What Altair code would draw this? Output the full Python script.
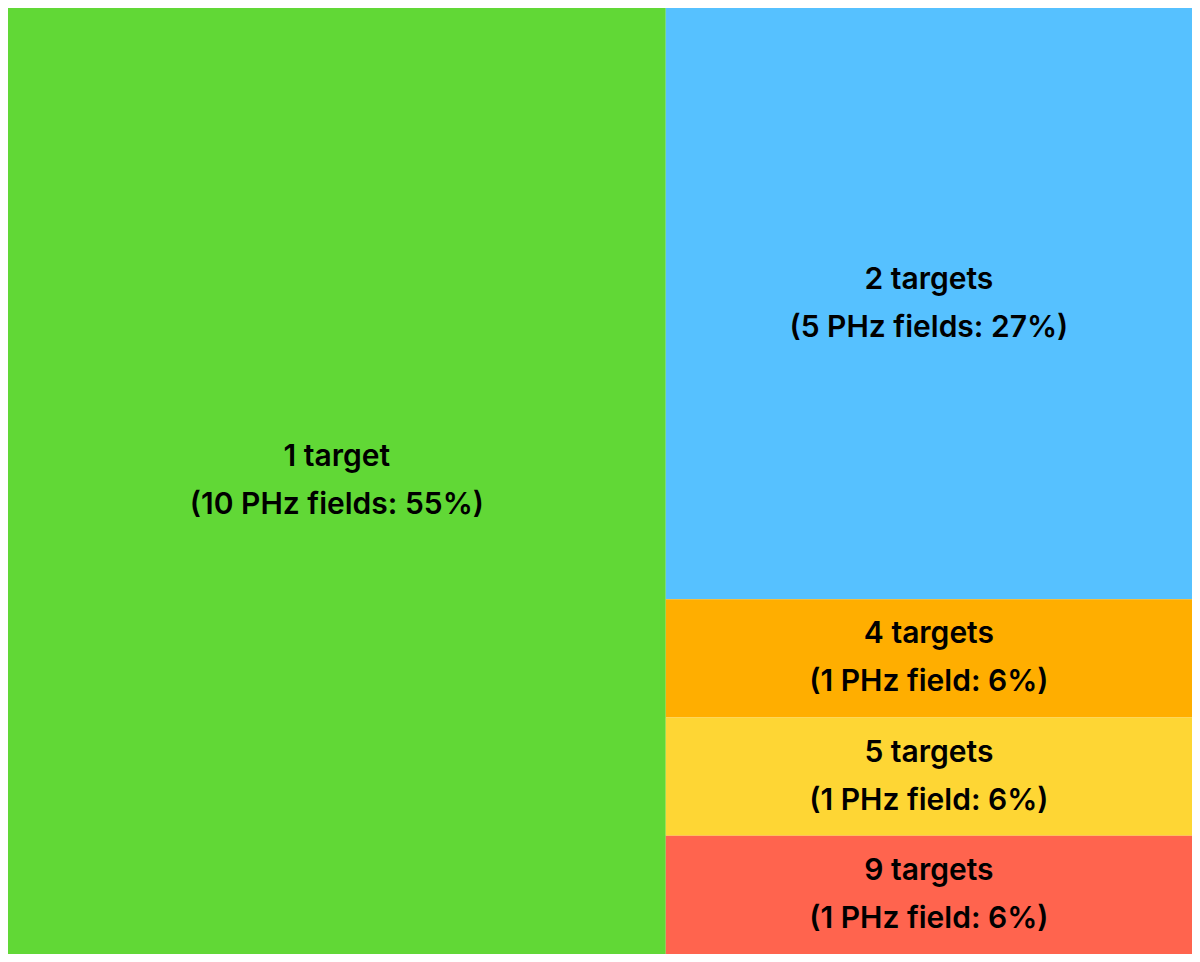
import altair as alt
import pandas as pd

labels = ["1 target", "2 targets", "4 targets", "5 targets", "9 targets"]
fields = [10, 5, 1, 1, 1]
captions = ["(10 PHz fields: 55%)", "(5 PHz fields: 27%)", "(1 PHz field: 6%)",
            "(1 PHz field: 6%)", "(1 PHz field: 6%)"]
colors = ["#61D836", "#56C1FF", "#FFAE00", "#FED634", "#FF644E"]

total = sum(fields)
rest = sum(fields[1:])
rows = []
# first item takes a full-height column; the rest are stacked in the second column
rows.append(dict(label=labels[0], caption=captions[0], color=colors[0],
                 x0=0, x1=fields[0], y0=0.0, y1=1.0))
cum = 0
for lab, f, cap, col in zip(labels[1:], fields[1:], captions[1:], colors[1:]):
    rows.append(dict(label=lab, caption=cap, color=col,
                     x0=fields[0], x1=total, y0=cum / rest, y1=(cum + f) / rest))
    cum += f
df = pd.DataFrame(rows)
df["xm"] = (df.x0 + df.x1) / 2
df["ym"] = (df.y0 + df.y1) / 2
df["text"] = df.label + "\n" + df.caption

xs = alt.Scale(domain=[0, total], nice=False, zero=False)
ys = alt.Scale(domain=[0, 1], reverse=True, nice=False, zero=False)

base = alt.Chart(df)
rects = base.mark_rect(strokeWidth=0).encode(
    x=alt.X("x0:Q", scale=xs, axis=None),
    x2="x1",
    y=alt.Y("y0:Q", scale=ys, axis=None),
    y2="y1",
    color=alt.Color("color:N", scale=None),
)
texts = base.mark_text(font="Inter", fontSize=30, fontWeight=600, color="black",
                       lineBreak="\n", lineHeight=48, align="center",
                       baseline="middle", dy=-24).encode(
    x=alt.X("xm:Q", scale=xs, axis=None),
    y=alt.Y("ym:Q", scale=ys, axis=None),
    text="text:N",
)

chart = (rects + texts).properties(
    width=1184, height=946, padding=0,
    autosize=alt.AutoSizeParams(type="fit", contains="padding"),
).configure_view(stroke=None)

chart.save("out.html", embed_options={"renderer": "svg", "actions": False})
